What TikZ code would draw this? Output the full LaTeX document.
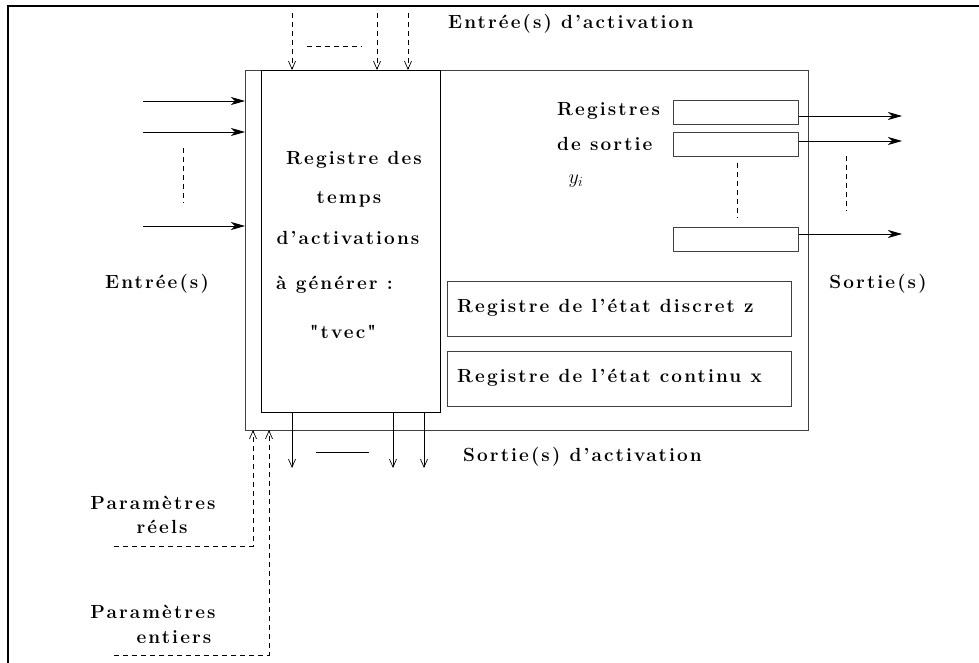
\RequirePackage{fix-cm}
\documentclass[tikz,border=0pt]{standalone}
\usepackage{fontspec}
\setmainfont{Latin Modern Roman}
\newfontfamily\spacedrm[LetterSpace=11]{Latin Modern Roman}
\usetikzlibrary{arrows.meta,calc}

\tikzset{
  lbl/.style={font=\spacedrm\bfseries\fontsize{19}{22}\selectfont, inner sep=0pt},
  blockline/.style={draw=black!75, line width=0.9pt},
  reg/.style={draw=black!75, line width=0.9pt},
  flow/.style={line width=0.9pt, -{Stealth[length=14pt,width=8pt,inset=4pt]}},
  act/.style={line width=0.7pt, -{Straight Barb[length=8pt,width=7pt]}},
  dsh/.style={line width=0.7pt, dash pattern=on 5pt off 4pt},
}

\begin{document}
\begin{tikzpicture}[x=1pt,y=-1pt]
  \useasboundingbox (0,0) rectangle (979,663);

  % frame (open on the right and at the bottom)
  \draw[line width=2.6pt] (8,663) -- (8,6) -- (979,6);

  % the block and the register of activation times
  \path[blockline] (245,70) rectangle (808,430);
  \node[draw, line width=1.4pt, minimum width=179pt, minimum height=342pt, inner sep=0pt, anchor=north west]
    (tvec) at (261,70) {};
  \coordinate (blkTL) at (245,70);
  \coordinate (blkBL) at (245,430);

  \node[lbl] (t1) at (354,160) {Registre des};
  \node[lbl] (t2) at (349,199) {temps};
  \node[lbl] (t3) at (348,238) {d’activations};
  \node[lbl, anchor=west] (t4) at (276,285) {à générer :};
  \node[lbl] (t5) at (343,332) {"tvec"};

  % input ports
  \coordinate (in1) at (143,101);
  \coordinate (in2) at (143,132);
  \coordinate (in3) at (143,226);
  \draw[flow] (in1) -- (in1 -| blkTL);
  \draw[flow] (in2) -- (in2 -| blkTL);
  \draw[flow] (in3) -- (in3 -| blkTL);
  \coordinate (ind1) at (183,148);
  \coordinate (ind2) at (183,203);
  \draw[dsh] (ind1) -- (ind2);
  \node[lbl] (inlbl) at (157,284) {Entrée(s)};

  % activation inputs
  \coordinate (ai1) at (292,13);
  \coordinate (ai2) at (377,13);
  \coordinate (ai3) at (408,13);
  \draw[act, dsh] (ai1) -- (ai1 |- tvec.north);
  \draw[act, dsh] (ai2) -- (ai2 |- tvec.north);
  \draw[act, dsh] (ai3) -- (ai3 |- tvec.north);
  \coordinate (aid1) at (307,46);
  \coordinate (aid2) at (362,46);
  \draw[dsh] (aid1) -- (aid2);
  \node[lbl, anchor=west] (ailbl) at (448,24) {Entrée(s) d’activation};

  % activation outputs
  \coordinate (ao1) at (292,468);
  \coordinate (ao2) at (393,468);
  \coordinate (ao3) at (424,468);
  \draw[act] (ao1 |- tvec.south) -- (ao1);
  \draw[act] (ao2 |- tvec.south) -- (ao2);
  \draw[act] (ao3 |- tvec.south) -- (ao3);
  \coordinate (aod1) at (316,452);
  \coordinate (aod2) at (369,452);
  \draw[line width=0.8pt] (aod1) -- (aod2);
  \node[lbl, anchor=west] (aolbl) at (463,457) {Sortie(s) d’activation};

  % parameters
  \coordinate (pr) at (114,546);
  \coordinate (pe) at (114,655);
  \coordinate (prup) at (253,430);
  \coordinate (peup) at (269,430);
  \draw[act, dsh] (pr) -| (prup);
  \draw[act, dsh] (pe) -| (peup);
  \node[lbl] (pr1) at (153,503) {Paramètres};
  \node[lbl] (pr2) at (162,527) {réels};
  \node[lbl] (pe1) at (153,612) {Paramètres};
  \node[lbl] (pe2) at (174,637) {entiers};

  % output registers
  \node[lbl, anchor=west] (rs1) at (557,111) {Registres};
  \node[lbl, anchor=west] (rs2) at (557,144) {de sortie};
  \node[font=\fontsize{20}{24}\selectfont, inner sep=0pt] (yi) at (576,181) {$y_i$};
  \node[reg, minimum width=125pt, minimum height=24pt, inner sep=0pt, anchor=north west] (o1) at (673,100) {};
  \node[reg, minimum width=125pt, minimum height=24pt, inner sep=0pt, anchor=north west] (o2) at (673,132) {};
  \node[reg, minimum width=125pt, minimum height=24pt, inner sep=0pt, anchor=north west] (o3) at (673,227) {};
  \coordinate (out1) at (902,116);
  \coordinate (out2) at (902,141);
  \coordinate (out3) at (902,234);
  \draw[flow] (out1 -| o1.east) -- (out1);
  \draw[flow] (out2 -| o2.east) -- (out2);
  \draw[flow] (out3 -| o3.east) -- (out3);
  \coordinate (od1) at (737,163);
  \coordinate (od2) at (737,218);
  \draw[dsh] (od1) -- (od2);
  \coordinate (od3) at (846,156);
  \coordinate (od4) at (846,211);
  \draw[dsh] (od3) -- (od4);
  \node[lbl] (outlbl) at (878,284) {Sortie(s)};

  % state registers
  \node[reg, minimum width=344pt, minimum height=55pt, inner sep=0pt, anchor=north west] (zreg) at (447,281) {};
  \node[lbl, anchor=west] (zlbl) at (457,308) {Registre de l’état discret z};
  \node[reg, minimum width=344pt, minimum height=55pt, inner sep=0pt, anchor=north west] (xreg) at (447,351) {};
  \node[lbl, anchor=west] (xlbl) at (457,378) {Registre de l’état continu x};
\end{tikzpicture}
\end{document}
